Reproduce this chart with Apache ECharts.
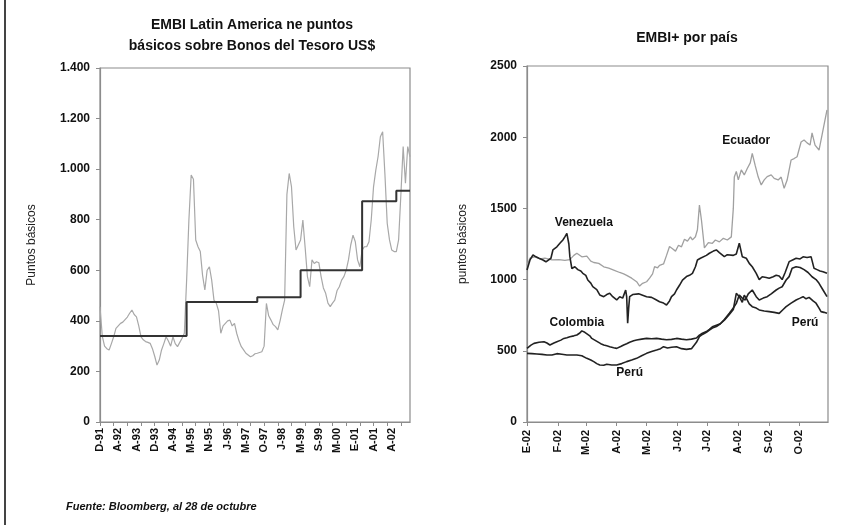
<!DOCTYPE html>
<html><head><meta charset="utf-8">
<script src="https://cdn.jsdelivr.net/npm/echarts@6/dist/echarts.min.js"></script>
<style>html,body{margin:0;padding:0;background:#fff}#c{width:851px;height:525px}</style>
</head><body><div id="c"></div><script>
// ---- Left chart: EMBI Latin America (monthly, Dec-91 .. Oct-02 approx) ----
const leftTickLabels = ['D-91','A-92','A-93','D-93','A-94','M-95','N-95','J-96','M-97','O-97','J-98','M-99','S-99','M-00','E-01','A-01','A-02'];
const embiLatam = [
 456,340,300,290,285,310,337,370,380,390,395,405,415,430,443,425,416,380,337,325,
 318,315,311,290,260,225,245,285,310,337,320,300,337,310,298,315,331,351,560,799,
 977,960,720,693,674,580,522,600,614,561,482,470,440,351,380,390,400,403,380,390,
 350,320,298,285,272,265,258,262,270,272,275,278,300,469,420,403,385,377,364,400,
 443,482,900,983,931,772,680,700,720,799,690,575,535,641,627,634,630,575,530,509,
 470,456,470,482,520,535,561,575,600,641,700,739,713,641,614,680,693,693,713,800,
 930,996,1050,1128,1148,980,786,720,680,674,674,720,900,1089,944,1089,1049];
const embiStepIdx = [0,38,69,88,115,130,136];
const embiStepVal = [340,475,493,600,873,915,915];

// ---- Right chart: EMBI+ por país (day of 2002, value) ----
const monthStarts = [0,31,59,90,120,151,181,212,243,273];
const monthLabels = ['E-02','F-02','M-02','A-02','M-02','J-02','J-02','A-02','S-02','O-02'];
const ecuador = [[0,1100],[3,1150],[8,1160],[13,1145],[18,1150],[25,1138],[32,1140],[38,1135],[43,1140],[47,1170],[50,1185],[55,1160],[60,1165],[64,1130],[67,1120],[72,1114],[77,1090],[82,1080],[87,1067],[93,1050],[97,1040],[100,1030],[105,1010],[110,985],[113,955],[116,974],[120,985],[123,1010],[126,1040],[128,1091],[131,1083],[133,1100],[137,1110],[140,1170],[143,1232],[146,1217],[149,1200],[152,1241],[155,1230],[158,1283],[161,1270],[164,1300],[166,1279],[169,1301],[171,1350],[173,1524],[175,1420],[178,1223],[182,1260],[186,1255],[189,1278],[193,1265],[197,1290],[201,1278],[205,1300],[207,1500],[208,1720],[210,1760],[212,1700],[215,1770],[218,1735],[221,1780],[224,1820],[226,1887],[229,1800],[232,1720],[235,1665],[238,1700],[241,1723],[245,1735],[248,1711],[252,1700],[255,1720],[258,1641],[261,1699],[265,1840],[268,1850],[271,1863],[275,1966],[278,1980],[281,1960],[284,1945],[286,2031],[289,1945],[293,1910],[296,2015],[299,2121],[301,2191]];
const venezuela = [[0,1067],[3,1138],[6,1173],[9,1160],[12,1150],[16,1138],[19,1125],[21,1114],[24,1150],[26,1208],[30,1230],[33,1255],[36,1278],[38,1300],[40,1325],[42,1250],[43,1161],[45,1078],[48,1090],[51,1070],[54,1060],[56,1044],[59,1030],[61,997],[64,975],[66,950],[70,930],[73,892],[77,880],[80,895],[83,904],[86,880],[90,857],[93,880],[96,870],[99,927],[100,880],[101,693],[102,800],[103,880],[106,895],[108,904],[112,900],[116,890],[120,880],[125,875],[129,860],[133,845],[137,835],[140,822],[143,850],[145,880],[148,900],[150,927],[153,960],[156,997],[158,990],[160,1021],[163,1030],[166,1044],[169,1090],[171,1138],[174,1150],[176,1161],[180,1170],[183,1185],[187,1200],[190,1208],[193,1190],[195,1198],[198,1161],[201,1175],[203,1185],[207,1170],[210,1180],[213,1255],[216,1161],[220,1150],[223,1114],[226,1090],[230,1044],[233,1000],[236,1020],[240,1015],[243,1009],[247,1020],[250,1030],[253,1025],[256,1000],[259,1050],[263,1126],[267,1140],[270,1150],[274,1145],[277,1160],[281,1155],[285,1161],[288,1079],[291,1070],[294,1060],[297,1055],[301,1044]];
const colombia = [[0,517],[4,540],[7,552],[12,560],[17,564],[20,555],[23,541],[27,555],[30,564],[34,575],[37,587],[40,592],[43,599],[47,605],[50,611],[53,625],[55,640],[58,630],[60,625],[63,605],[65,587],[68,575],[70,564],[74,550],[77,541],[80,535],[83,529],[87,522],[90,517],[94,530],[97,541],[100,550],[103,560],[107,570],[110,576],[115,582],[120,587],[125,585],[130,587],[135,582],[140,578],[145,580],[150,587],[155,582],[160,578],[165,582],[170,590],[173,610],[176,623],[180,635],[183,650],[186,669],[190,680],[194,690],[198,720],[203,763],[207,800],[210,833],[213,892],[216,870],[219,857],[222,900],[226,927],[230,880],[233,857],[237,870],[241,880],[245,900],[250,927],[253,940],[256,950],[260,997],[263,1021],[266,1079],[270,1090],[274,1085],[278,1070],[282,1050],[286,1020],[290,1000],[293,974],[297,927],[301,880]];
const peru = [[0,482],[5,480],[10,478],[15,475],[20,471],[25,470],[30,480],[35,476],[40,471],[45,470],[50,471],[55,465],[60,447],[64,435],[67,424],[70,410],[73,400],[77,398],[80,405],[85,400],[90,400],[95,410],[100,424],[105,435],[110,447],[115,465],[120,482],[125,495],[130,506],[134,515],[137,529],[141,520],[145,525],[150,529],[155,515],[160,510],[165,515],[170,560],[173,600],[176,615],[180,630],[183,645],[186,660],[190,670],[194,690],[198,715],[203,755],[207,790],[210,904],[213,880],[216,840],[218,890],[220,870],[223,830],[226,810],[230,800],[233,787],[238,780],[243,775],[248,770],[253,763],[257,790],[260,810],[265,835],[270,857],[274,870],[277,880],[280,865],[283,875],[287,850],[290,834],[293,800],[295,775],[298,770],[301,763]];
const seriesNotes = [
  {name:'Venezuela', d:57, v:1400},
  {name:'Ecuador', d:220, v:1975},
  {name:'Colombia', d:50, v:695},
  {name:'Perú', d:103, v:344},
  {name:'Perú', d:279, v:695}
];

const FONT = 'Liberation Sans, Arial, sans-serif';
const chart = echarts.init(document.getElementById('c'));
const axisGray = '#8c8c8c';
const leftCats = embiLatam.map((_, i) => i);
const fmtThousands = v => v >= 1000 ? Math.floor(v/1000) + '.' + String(v%1000).padStart(3,'0') : String(v);

function noteMarks() {
  return {
    symbol: 'rect', symbolSize: [1,1], silent: true,
    itemStyle: {color: 'rgba(0,0,0,0)'},
    label: {show: true, position: 'inside', formatter: p => p.name, color: '#111', fontWeight: 'bold', fontSize: 12, fontFamily: FONT},
    data: seriesNotes.map(n => ({name: n.name, coord: [n.d, n.v]}))
  };
}

chart.setOption({
  animation: false,
  backgroundColor: '#fff',
  textStyle: {fontFamily: FONT},
  title: [
    {text: 'EMBI Latin America ne puntos\nbásicos sobre Bonos del Tesoro US$', left: 247, top: 10, textAlign: 'center',
     textStyle: {fontSize: 14, fontWeight: 'bold', color: '#111', lineHeight: 21, fontFamily: FONT}},
    {text: 'EMBI+ por país', left: 682, top: 26, textAlign: 'center',
     textStyle: {fontSize: 14, fontWeight: 'bold', color: '#111', fontFamily: FONT}},
    {text: 'Fuente: Bloomberg, al 28 de octubre', left: 61, top: 496,
     textStyle: {fontSize: 11, fontWeight: 'bold', fontStyle: 'italic', color: '#111', fontFamily: FONT}}
  ],
  graphic: [{type: 'rect', shape: {x: 4, y: 0, width: 2, height: 525}, style: {fill: '#444'}}],
  grid: [
    {left: 100, right: 441, top: 68, bottom: 103, show: true, borderColor: axisGray, borderWidth: 1.2},
    {left: 527, right: 23, top: 66, bottom: 103, show: true, borderColor: axisGray, borderWidth: 1.2}
  ],
  xAxis: [
    {gridIndex: 0, type: 'category', data: leftCats, boundaryGap: false,
     axisLine: {lineStyle: {color: axisGray, width: 1.2}},
     axisTick: {show: true, interval: 5, length: 4, inside: false, lineStyle: {color: axisGray}},
     axisLabel: {interval: 7, rotate: 90, margin: 6, color: '#111', fontWeight: 'bold', fontSize: 11, fontFamily: FONT,
       formatter: (v, i) => leftTickLabels[Math.round(i/8)] || ''}},
    {gridIndex: 1, type: 'value', min: 0, max: 302,
     axisLine: {lineStyle: {color: axisGray, width: 1.2}},
     axisTick: {show: true, length: 4, customValues: monthStarts, lineStyle: {color: axisGray}},
     splitLine: {show: false},
     axisLabel: {rotate: 90, margin: 8, color: '#111', fontWeight: 'bold', fontSize: 11, fontFamily: FONT,
       customValues: monthStarts, formatter: v => monthLabels[monthStarts.indexOf(v)] || ''}}
  ],
  yAxis: [
    {gridIndex: 0, type: 'value', min: 0, max: 1400, interval: 200,
     name: 'Puntos básicos', nameLocation: 'middle', nameGap: 62, nameRotate: 90,
     nameTextStyle: {fontSize: 12, color: '#222', fontFamily: FONT},
     axisLine: {show: true, lineStyle: {color: axisGray, width: 1.2}},
     axisTick: {show: true, length: 4, lineStyle: {color: axisGray}},
     splitLine: {show: false},
     axisLabel: {margin: 10, color: '#111', fontWeight: 'bold', fontSize: 12, fontFamily: FONT, formatter: fmtThousands}},
    {gridIndex: 1, type: 'value', min: 0, max: 2500, interval: 500,
     name: 'puntos básicos', nameLocation: 'middle', nameGap: 58, nameRotate: 90,
     nameTextStyle: {fontSize: 12, color: '#222', fontFamily: FONT},
     axisLine: {show: true, lineStyle: {color: axisGray, width: 1.2}},
     axisTick: {show: true, length: 4, lineStyle: {color: axisGray}},
     splitLine: {show: false},
     axisLabel: {margin: 10, color: '#111', fontWeight: 'bold', fontSize: 12, fontFamily: FONT, formatter: v => String(v)}}
  ],
  series: [
    {type: 'line', xAxisIndex: 0, yAxisIndex: 0, data: embiLatam, showSymbol: false, symbol: 'none',
     lineStyle: {color: '#a8a8a8', width: 1.2}},
    {type: 'line', xAxisIndex: 0, yAxisIndex: 0, step: 'end', data: embiStepIdx.map((x, i) => [x, embiStepVal[i]]),
     showSymbol: false, symbol: 'none', lineStyle: {color: '#333', width: 2}},
    {type: 'line', xAxisIndex: 1, yAxisIndex: 1, data: ecuador, showSymbol: false, symbol: 'none',
     lineStyle: {color: '#a0a0a0', width: 1.3}},
    {type: 'line', xAxisIndex: 1, yAxisIndex: 1, data: venezuela, showSymbol: false, symbol: 'none',
     lineStyle: {color: '#222', width: 1.6}, markPoint: noteMarks()},
    {type: 'line', xAxisIndex: 1, yAxisIndex: 1, data: colombia, showSymbol: false, symbol: 'none',
     lineStyle: {color: '#222', width: 1.6}},
    {type: 'line', xAxisIndex: 1, yAxisIndex: 1, data: peru, showSymbol: false, symbol: 'none',
     lineStyle: {color: '#222', width: 1.6}}
  ]
});
</script></body></html>
